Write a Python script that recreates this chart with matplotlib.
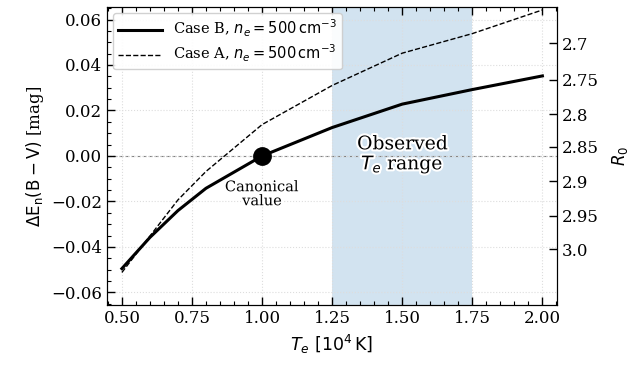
import matplotlib
matplotlib.use("Agg")
import matplotlib.pyplot as plt
import matplotlib.patheffects as pe
from matplotlib.ticker import MultipleLocator

plt.rcParams['font.family'] = ['DejaVu Serif']
plt.rcParams['mathtext.fontset'] = 'dejavusans'

# Data
te = [0.5, 0.6, 0.7, 0.8, 1.0, 1.25, 1.5, 1.75, 2.0]
case_b = [-0.0495, -0.0358, -0.0240, -0.0142, 0.0, 0.0125, 0.0228, 0.0292, 0.0352]
case_a = [-0.0512, -0.0352, -0.0193, -0.0068, 0.0138, 0.0310, 0.0452, 0.0538, 0.0642]
canonical = (1.0, 0.0)
obs_range = (1.25, 1.75)
r0_labels = ['2.7', '2.75', '2.8', '2.85', '2.9', '2.95', '3.0']
r0_pos = [0.0495, 0.0336, 0.0184, 0.0040, -0.0112, -0.0262, -0.0409]
xticks = [0.50, 0.75, 1.00, 1.25, 1.50, 1.75, 2.00]
yticks = [-0.06, -0.04, -0.02, 0.00, 0.02, 0.04, 0.06]

fig = plt.figure(figsize=(6.34, 3.66), dpi=100)
ax = fig.add_axes([0.1688, 0.1667, 0.7097, 0.8142])

ax.axvspan(obs_range[0], obs_range[1], color='#1f77b4', alpha=0.2, lw=0, zorder=0.8)
ax.axhline(0, color='gray', ls='--', lw=0.8, zorder=1)

ax.plot(te, case_b, color='black', lw=2.2, label=r'Case B, $n_e = 500\,\mathrm{cm^{-3}}$', zorder=3)
ax.plot(te, case_a, color='black', lw=1.0, ls='--', label=r'Case A, $n_e = 500\,\mathrm{cm^{-3}}$', zorder=3)
ax.plot([canonical[0]], [canonical[1]], 'o', color='black', ms=12.5, zorder=4)

ax.text(1.0, -0.0168, 'Canonical\nvalue', ha='center', va='center', fontsize=10.5,
        linespacing=1.0, zorder=5,
        path_effects=[pe.withStroke(linewidth=3, foreground='white')])
ax.text(1.5, 0.0003, 'Observed\n$T_e$ range', ha='center', va='center', fontsize=13.5,
        linespacing=1.0, zorder=5,
        path_effects=[pe.withStroke(linewidth=3, foreground='white')])

ax.set_xlim(0.447, 2.052)
ax.set_ylim(-0.0655, 0.0655)
ax.set_xticks(xticks)
ax.set_xticklabels([f'{v:.2f}' for v in xticks])
ax.set_yticks(yticks)
ax.set_yticklabels([f'{v:.2f}'.replace('-', '\u2212') for v in yticks])
ax.xaxis.set_minor_locator(MultipleLocator(0.05))
ax.yaxis.set_minor_locator(MultipleLocator(0.005))
ax.tick_params(which='both', direction='in', top=True, right=False, labelsize=12)
ax.tick_params(which='major', length=6, width=1)
ax.tick_params(which='minor', length=3, width=0.8)
ax.grid(True, which='major', color='#dddddd', ls=':', lw=0.8)

ax.set_xlabel(r'$T_e\ [10^4\,\mathrm{K}]$', fontsize=12.5)
ax.set_ylabel(r'$\Delta\mathrm{E_n(B-V)}$ [mag]', fontsize=12)

leg = ax.legend(loc='upper left', fontsize=10.5, handlelength=3.0, framealpha=0.9,
                borderaxespad=0.4, borderpad=0.35, labelspacing=0.25, fancybox=True)

ax2 = ax.twinx()
ax2.set_ylim(ax.get_ylim())
ax2.set_yticks(r0_pos)
ax2.set_yticklabels(r0_labels)
ax2.tick_params(axis='y', direction='in', length=6, width=1, labelsize=12)
ax2.set_ylabel(r'$R_0$', fontsize=12, labelpad=8)

fig.savefig('out.png', dpi=100)
